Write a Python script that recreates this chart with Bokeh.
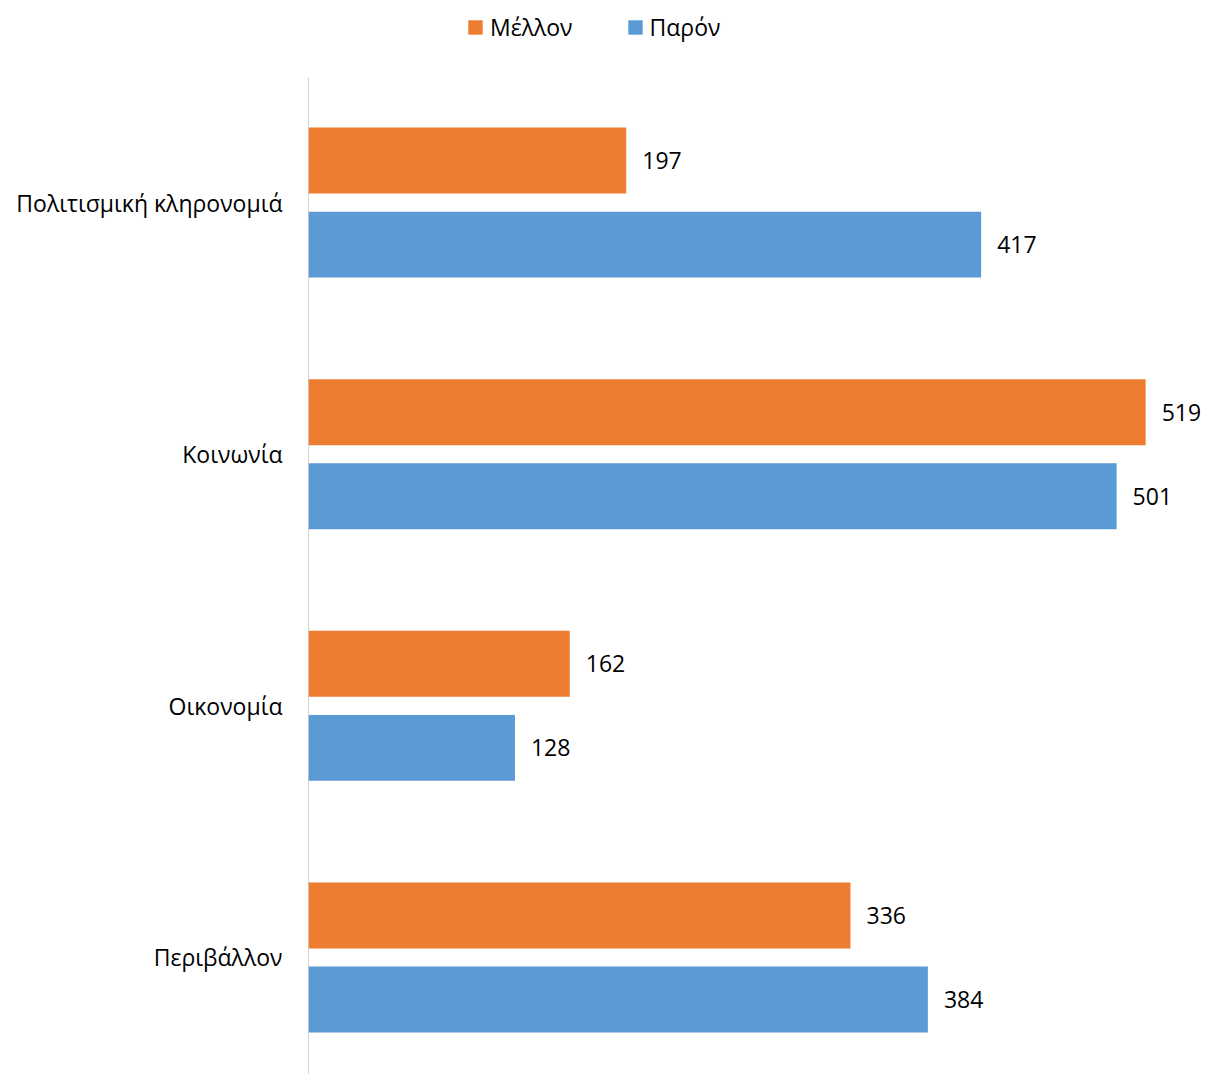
from bokeh.plotting import figure
from bokeh.models import ColumnDataSource, FixedTicker, Range1d, Legend, LegendItem
from bokeh.core.properties import value
from bokeh.embed import file_html
from bokeh.resources import INLINE

categories = ["Πολιτισμική κληρονομιά", "Κοινωνία", "Οικονομία", "Περιβάλλον"]
future = [197, 519, 162, 336]    # Μέλλον
present = [417, 501, 128, 384]   # Παρόν
series_names = ["Μέλλον", "Παρόν"]
colors = ["#ED7D31", "#5B9BD5"]

FONT = "Open Sans"
FS = "23px"
n = len(categories)
centers = [n - 1 - i for i in range(n)]
off = 0.167
bh = 0.262
y_lo, y_axis_top, y_hi = -0.465, 3.497, 3.803

src_f = ColumnDataSource(dict(y=[c + off for c in centers], v=future, t=[str(v) for v in future]))
src_p = ColumnDataSource(dict(y=[c - off for c in centers], v=present, t=[str(v) for v in present]))

p = figure(width=1205, height=1074, output_backend="svg", toolbar_location=None,
           x_range=Range1d(0, 553), y_range=Range1d(y_lo, y_hi),
           min_border_left=308, min_border_right=5, min_border_top=0, min_border_bottom=0)

# axis line (only over the plot area, below the legend)
p.segment(x0=[0], y0=[y_lo], x1=[0], y1=[y_axis_top], line_color="#A6A6A6", line_width=1)

rf = p.hbar(y="y", right="v", left=0, height=bh, source=src_f, color=colors[0], line_color=None)
rp = p.hbar(y="y", right="v", left=0, height=bh, source=src_p, color=colors[1], line_color=None)

for src in (src_f, src_p):
    p.text(x="v", y="y", text="t", source=src, x_offset=16, text_baseline="middle",
           text_align="left", text_font=value(FONT), text_font_size=FS, text_color="#000000")

p.xaxis.visible = False
p.xgrid.visible = False
p.ygrid.visible = False
p.outline_line_color = None

ya = p.yaxis[0]
ya.ticker = FixedTicker(ticks=centers)
ya.major_label_overrides = {c: categories[i] for i, c in enumerate(centers)}
ya.major_tick_line_color = None
ya.minor_tick_line_color = None
ya.major_tick_out = 0
ya.major_tick_in = 0
ya.axis_line_color = None
ya.major_label_standoff = 26
ya.major_label_text_font = FONT
ya.major_label_text_font_size = FS
ya.major_label_text_color = "#000000"

legend = Legend(items=[LegendItem(label=series_names[0], renderers=[rf]),
                       LegendItem(label=series_names[1], renderers=[rp])],
                orientation="horizontal", location=(158, 1031),
                glyph_width=18, glyph_height=18, label_height=24, label_standoff=6, spacing=53,
                padding=0, margin=0, border_line_color=None, background_fill_alpha=0,
                label_text_font=FONT, label_text_font_size=FS, label_text_color="#000000")
p.add_layout(legend, "center")

open("out.html", "w").write(file_html(p, INLINE))
